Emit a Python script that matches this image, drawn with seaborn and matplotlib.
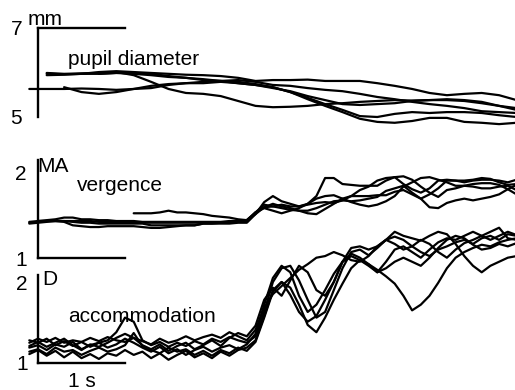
import numpy as np
import pandas as pd
import matplotlib
matplotlib.use("Agg")
import matplotlib.pyplot as plt
import seaborn as sns

nan = np.nan

# sample times (s)
t_pupil = np.round(np.arange(29) * 0.2 - 0.1, 2)
t_fast = np.round(np.arange(57) * 0.1 - 0.1, 2)

# ---------------- pupil diameter (mm) ----------------
pupil_1 = [nan, 5.99, 5.97, 5.98, 5.99, 6.01, 5.94, 5.79, 5.63, 5.54, 5.52, 5.47, 5.36, 5.25, 5.22,
           5.23, 5.25, 5.29, 5.31, 5.34, 5.36, 5.38, 5.37, 5.38, 5.38, 5.36, 5.31, 5.25, 5.16]
pupil_2 = [nan, 5.94, 5.95, 5.97, 6.01, 6.03, 6.01, 5.99, 5.97, 5.95, 5.94, 5.92, 5.88, 5.81, 5.83,
           5.83, 5.84, 5.81, 5.81, 5.81, 5.76, 5.70, 5.63, 5.54, 5.49, 5.52, 5.54, 5.49, 5.38]
pupil_3 = [5.63, 5.63, 5.63, 5.64, 5.63, 5.61, 5.63, 5.65, 5.72, 5.76, 5.79, 5.81, 5.83, 5.79, 5.72,
           5.70, 5.65, 5.61, 5.58, 5.52, 5.45, 5.40, 5.34, 5.29, 5.25, 5.20, 5.13, 5.11, 5.09]
pupil_4 = [nan, nan, 5.67, 5.56, 5.52, 5.56, 5.63, 5.70, 5.74, 5.76, 5.76, 5.79, 5.76, 5.72, 5.65,
           5.58, 5.47, 5.38, 5.29, 5.27, 5.29, 5.31, 5.36, 5.38, 5.40, 5.38, 5.34, 5.25, 5.20]
pupil_5 = [nan, 5.97, 5.96, 5.97, 5.97, 5.99, 5.97, 5.94, 5.90, 5.88, 5.83, 5.81, 5.79, 5.74, 5.67,
           5.56, 5.43, 5.29, 5.16, 5.02, 5.00, 5.07, 5.11, 5.09, 5.11, 5.11, 5.09, 5.04, 5.00]
pupil_6 = [nan, nan, nan, nan, 5.97, 5.99, 5.99, 5.97, 5.92, 5.88, 5.85, 5.81, 5.76, 5.72, 5.67,
           5.56, 5.40, 5.25, 5.11, 4.96, 4.89, 4.87, 4.91, 4.98, 4.98, 4.89, 4.87, 4.84, 4.87]

# ---------------- vergence (MA) ----------------
verg_1 = [1.42, 1.43, 1.44, 1.45, 1.47, 1.47, 1.45, 1.45, 1.44, 1.44, 1.43, 1.43, 1.43, 1.42, 1.42,
          1.42, 1.42, 1.42, 1.42, 1.42, 1.42, 1.42, 1.42, 1.43, 1.43, 1.44, 1.51, 1.65, 1.72, 1.66,
          1.63, 1.60, 1.63, 1.72, 1.93, 1.93, 1.86, 1.85, 1.84, 1.84, 1.84, 1.90, 1.94, 1.95, 1.91,
          1.83, 1.76, 1.71, 1.79, 1.81, 1.84, 1.86, 1.87, 1.87, 1.85, 1.80, 1.74]
verg_2 = [1.40, 1.41, 1.42, 1.43, 1.43, 1.42, 1.41, 1.41, 1.40, 1.40, 1.40, 1.40, 1.40, 1.40, 1.38,
          1.38, 1.38, 1.38, 1.38, 1.38, 1.40, 1.40, 1.40, 1.40, 1.41, 1.41, 1.51, 1.59, 1.63, 1.60,
          1.58, 1.55, 1.52, 1.51, 1.57, 1.63, 1.69, 1.72, 1.72, 1.72, 1.73, 1.73, 1.77, 1.79, 1.74,
          1.69, 1.59, 1.58, 1.64, 1.67, 1.69, 1.67, 1.69, 1.71, 1.74, 1.80, 1.85]
verg_3 = [nan, 1.43, 1.43, 1.43, 1.42, 1.38, 1.37, 1.36, 1.36, 1.37, 1.37, 1.37, 1.37, 1.36, 1.35,
          1.35, 1.36, 1.37, 1.38, 1.38, 1.40, 1.40, 1.41, 1.41, 1.42, 1.44, 1.53, 1.62, 1.60, 1.58,
          1.56, 1.55, 1.55, 1.58, 1.62, 1.66, 1.67, 1.66, 1.67, 1.69, 1.71, 1.78, 1.81, 1.84, 1.76,
          1.69, 1.74, 1.81, 1.90, 1.90, 1.88, 1.90, 1.91, 1.91, 1.90, 1.88, 1.91]
verg_4 = [nan] * 12 + [1.52, 1.52, 1.52, 1.53, 1.55, 1.53, 1.53, 1.52, 1.51, 1.49, 1.48, 1.47, 1.45,
                       1.44, 1.53, 1.58, 1.55, 1.52, 1.55, 1.58, 1.63, 1.69, 1.72, 1.73, 1.69, 1.65,
                       1.62, 1.60, 1.62, 1.66, 1.72, 1.83, 1.88, 1.93, 1.94, 1.91, 1.88, 1.84, 1.84,
                       1.83, 1.81, 1.81, 1.83, 1.84, 1.79]
verg_5 = [1.41, 1.42, 1.43, 1.43, 1.43, 1.43, 1.43, 1.43, 1.42, 1.42, 1.42, 1.41, 1.41, 1.41, 1.41,
          1.41, 1.41, 1.41, 1.41, 1.41, 1.41, 1.41, 1.41, 1.41, 1.42, 1.42, 1.53, 1.59, 1.60, 1.62,
          1.60, 1.60, 1.62, 1.64, 1.65, 1.64, 1.67, 1.72, 1.79, 1.83, 1.90, 1.93, 1.94, 1.86, 1.80,
          1.76, 1.81, 1.90, 1.91, 1.90, 1.90, 1.91, 1.93, 1.92, 1.88, 1.85, 1.86]

# ---------------- accommodation (D) ----------------
acc_1 = [1.19, 1.22, 1.16, 1.23, 1.20, 1.26, 1.17, 1.22, 1.25, 1.28, 1.38, 1.56, 1.51, 1.28, 1.22,
         1.26, 1.20, 1.25, 1.21, 1.27, 1.23, 1.30, 1.26, 1.32, 1.28, 1.25, 1.33, 1.63, 2.00, 2.17,
         2.20, 2.02, 1.78, 1.56, 1.63, 1.90, 2.17, 2.37, 2.40, 2.33, 2.42, 2.52, 2.56, 2.52, 2.44,
         2.37, 2.32, 2.40, 2.44, 2.49, 2.52, 2.47, 2.54, 2.57, 2.52, 2.59, 2.57]
acc_2 = [1.14, 1.17, 1.11, 1.19, 1.14, 1.16, 1.10, 1.15, 1.19, 1.14, 1.17, 1.22, 1.37, 1.21, 1.16,
         1.12, 1.19, 1.14, 1.17, 1.10, 1.15, 1.09, 1.16, 1.12, 1.19, 1.15, 1.26, 1.56, 1.88, 2.00,
         1.93, 1.72, 1.47, 1.38, 1.56, 1.78, 1.98, 2.17, 2.27, 2.22, 2.15, 2.07, 1.98, 1.83, 1.65,
         1.72, 1.83, 1.99, 2.17, 2.30, 2.37, 2.42, 2.46, 2.44, 2.49, 2.52, 2.54]
acc_3 = [1.28, 1.25, 1.30, 1.22, 1.27, 1.21, 1.26, 1.20, 1.25, 1.19, 1.23, 1.30, 1.25, 1.19, 1.14,
         1.20, 1.12, 1.17, 1.10, 1.16, 1.20, 1.14, 1.19, 1.22, 1.17, 1.23, 1.36, 1.72, 2.05, 2.20,
         2.12, 1.83, 1.63, 1.72, 1.90, 2.10, 2.25, 2.32, 2.27, 2.20, 2.12, 2.17, 2.25, 2.30, 2.25,
         2.20, 2.30, 2.42, 2.52, 2.57, 2.54, 2.46, 2.40, 2.42, 2.47, 2.44, 2.48]
acc_4 = [1.21, 1.26, 1.20, 1.25, 1.30, 1.22, 1.16, 1.23, 1.20, 1.25, 1.31, 1.36, 1.31, 1.22, 1.17,
         1.23, 1.15, 1.21, 1.25, 1.17, 1.22, 1.28, 1.21, 1.31, 1.37, 1.33, 1.46, 1.78, 1.93, 1.83,
         2.02, 2.20, 2.12, 1.90, 1.83, 2.00, 2.25, 2.42, 2.44, 2.40, 2.44, 2.52, 2.62, 2.57, 2.54,
         2.51, 2.57, 2.62, 2.59, 2.47, 2.32, 2.20, 2.12, 2.20, 2.25, 2.30, 2.32]
acc_5 = [1.11, 1.16, 1.09, 1.15, 1.07, 1.14, 1.06, 1.11, 1.05, 1.12, 1.09, 1.16, 1.10, 1.14, 1.06,
         1.12, 1.04, 1.10, 1.15, 1.07, 1.12, 1.06, 1.14, 1.09, 1.16, 1.19, 1.28, 1.58, 1.90, 2.00,
         1.84, 1.63, 1.51, 1.58, 1.78, 2.00, 2.25, 2.35, 2.30, 2.22, 2.12, 2.25, 2.40, 2.44, 2.37,
         2.30, 2.40, 2.49, 2.54, 2.52, 2.57, 2.62, 2.57, 2.52, 2.57, 2.62, 2.58]
acc_6 = [1.25, 1.30, 1.26, 1.31, 1.25, 1.28, 1.26, 1.31, 1.27, 1.32, 1.28, 1.26, 1.31, 1.27, 1.23,
         1.30, 1.25, 1.28, 1.33, 1.28, 1.32, 1.35, 1.31, 1.38, 1.33, 1.28, 1.41, 1.68, 1.85, 1.95,
         2.05, 2.15, 2.22, 2.30, 2.32, 2.37, 2.33, 2.27, 2.25, 2.32, 2.44, 2.52, 2.47, 2.40, 2.44,
         2.52, 2.47, 2.37, 2.30, 2.40, 2.48, 2.52, 2.57, 2.62, 2.67, 2.54, 2.52]

pupil_traces = [pupil_1, pupil_2, pupil_3, pupil_4, pupil_5, pupil_6]
verg_traces = [verg_1, verg_2, verg_3, verg_4, verg_5]
acc_traces = [acc_1, acc_2, acc_3, acc_4, acc_5, acc_6]

sns.set_style("white")
plt.rcParams['font.family'] = ['Liberation Sans', 'DejaVu Sans']
plt.rcParams['text.color'] = 'black'
plt.rcParams['ytick.color'] = 'black'
FS = 15

fig = plt.figure(figsize=(5.15, 3.9), dpi=100)
XLIM = (-38 / 87, 477 / 87)


def make_panel(t, traces, ylim, spine_lo, spine_hi, hbar_at, hbar_side, ticks, pad):
    ax = fig.add_axes([0, 0, 1, 1])
    ax.patch.set_alpha(0)
    frames = [pd.DataFrame({"t": t, "v": v, "trial": i}) for i, v in enumerate(traces)]
    df = pd.concat(frames).dropna()
    sns.lineplot(data=df, x="t", y="v", units="trial", estimator=None, color="black",
                 lw=1.6, ax=ax, legend=False)
    ax.set_xlim(*XLIM)
    ax.set_ylim(*ylim)
    ax.set_xlabel("")
    ax.set_ylabel("")
    for s in ax.spines.values():
        s.set_visible(False)
    left = ax.spines["left"]
    left.set_visible(True)
    left.set_position(("data", 0))
    left.set_bounds(spine_lo, spine_hi)
    left.set_linewidth(1.7)
    left.set_color("black")
    hb = ax.spines[hbar_side]
    hb.set_visible(True)
    hb.set_position(("data", hbar_at))
    hb.set_bounds(0, 1)
    hb.set_linewidth(1.7)
    hb.set_color("black")
    ax.set_xticks([])
    ax.set_yticks(ticks)
    ax.set_yticklabels([str(int(v)) for v in ticks])
    ax.tick_params(axis="y", which="major", length=0, pad=pad, labelsize=FS,
                   colors="black", labelcolor="black")
    return ax


# pupil: 7 mm at y=28px, 5 mm at y=117px
ax1 = make_panel(t_pupil, pupil_traces, (-50.5 / 44.5, 339.5 / 44.5), 5, 7, 7, "top", [5, 7], 11.5)
ax1.set_yticks([6], minor=True)
ax1.tick_params(axis="y", which="minor", length=5, width=1.5, direction="out", color="black")
ax1.text(-0.115, 7.07, "mm", fontsize=FS, ha="left", va="baseline", color="black")
ax1.text(0.345, 6.17, "pupil diameter", fontsize=FS, ha="left", va="baseline", color="black")

# vergence: 2 MA at y=172px, 1 MA at y=258px
ax2 = make_panel(t_fast, verg_traces, (-46 / 86, 344 / 86), 1, 2.14, 1, "bottom", [1, 2], 8)
ax2.text(-0.01, 2.0, "MA", fontsize=FS, ha="left", va="baseline", color="black")
ax2.text(0.448, 1.78, "vergence", fontsize=FS, ha="left", va="baseline", color="black")

# accommodation: 2 D at y=282px, 1 D at y=363px
ax3 = make_panel(t_fast, acc_traces, (54 / 81, 444 / 81), 1, 2.09, 1, "bottom", [1, 2], 7.5)
ax3.text(0.046, 1.96, "D", fontsize=FS, ha="left", va="baseline", color="black")
ax3.text(0.345, 1.51, "accommodation", fontsize=FS, ha="left", va="baseline", color="black")
ax3.text(0.5, 0.70, "1 s", fontsize=FS, ha="center", va="baseline", color="black")

fig.savefig("out.png", dpi=100)
